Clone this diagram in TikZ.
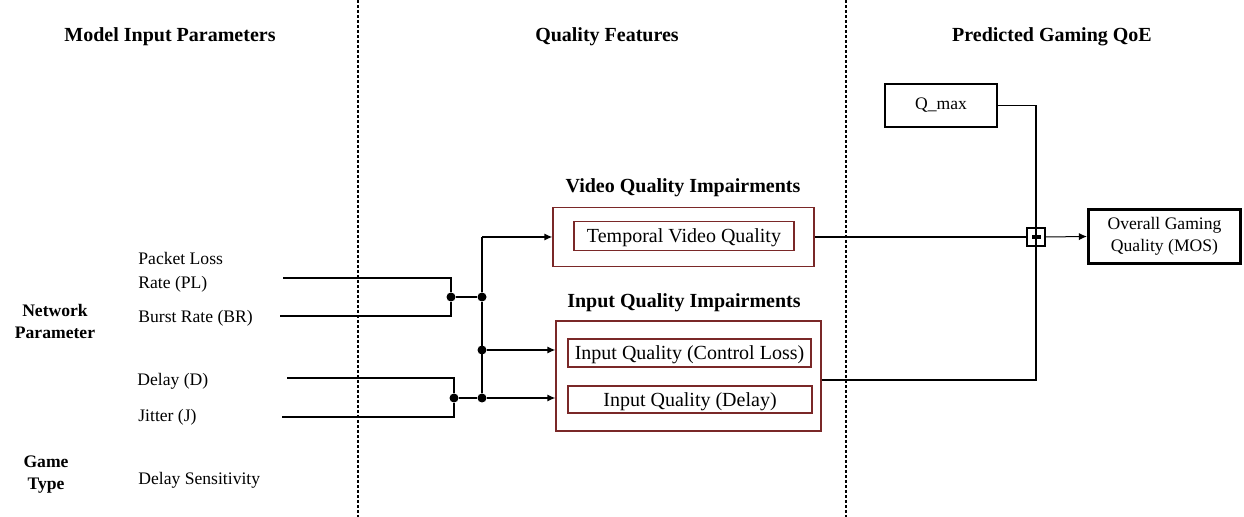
\documentclass[tikz,border=0pt]{standalone}
\usepackage{fontspec}
\setmainfont{Liberation Serif}
\usetikzlibrary{positioning,arrows.meta}
\definecolor{boxred}{RGB}{122,40,40}
\tikzset{
    head/.style ={
        font=\bfseries,
        align=center
    },
    side/.style ={
        font=\fontsize{8.8}{11}\selectfont\bfseries,
        align=center
    },
    label/.style ={
        anchor=west,
        align=left,
        inner sep=0pt,
        font=\fontsize{8.8}{12}\selectfont
    },
    outer/.style ={
        draw=boxred,
        line width=0.6pt
    },
    inner/.style ={
        draw=boxred,
        line width=0.6pt,
        inner sep=0pt,
        text height=7.5pt,
        text depth=0.5pt
    },
    plain/.style ={
        draw=black,
        line width=1pt,
        font=\fontsize{8.8}{11}\selectfont
    },
    dot/.style ={
        shape=circle,
        fill=black,
        inner sep=0pt,
        minimum size=4.5pt
    },
    wire/.style ={
        line width=0.7pt
    },
    divider/.style ={
        line width=0.6pt,
        dash pattern=on 1.6pt off 0.9pt
    }
}

\begin{document}
\begin{tikzpicture}[x=0.5pt,y=-0.5pt,>={Latex[length=4pt,width=3.6pt]}]
    \useasboundingbox (0,0) rectangle (1244,517);
    % dividers
    \draw[divider] (358,0) -- (358,517);
    \draw[divider] (846,0) -- (846,517);
    % column titles
    \node[head] (t1) at (170,37) {Model Input Parameters};
    \node[head] (t2) at (607,37) {Quality Features};
    \node[head] (t3) at (1052,37) {Predicted Gaming QoE};
    % input parameters
    \node[side] (net) at (55,321) {Network\\Parameter};
    \node[side] (game) at (46,475) {Game\\Type};
    \node[label] (pl) at (138,272) {Packet Loss\\Rate (PL)};
    \node[label] (br) at (138,318) {Burst Rate (BR)};
    \node[label] (d) at (137,381) {Delay (D)};
    \node[label] (j) at (138,417) {Jitter (J)};
    \node[label] (ds) at (138,480) {Delay Sensitivity};
    \coordinate (plend) at (283,278);
    \coordinate (brend) at (280,316);
    \coordinate (dend) at (287,378);
    \coordinate (jend) at (282,417);
    % quality features
    \node[head] (vqi) at (683,188) {Video Quality Impairments};
    \node[outer, minimum width=130.5pt, minimum height=29.5pt] (vbox) at (683.5,237) {};
    \node[inner, minimum width=110pt, minimum height=14.5pt] (tvq) at (684,236) {Temporal Video Quality};
    \node[head] (iqi) at (684,303) {Input Quality Impairments};
    \node[outer, minimum width=132.5pt, minimum height=55pt] (ibox) at (688.5,376) {};
    \node[inner, minimum width=121.5pt, minimum height=14pt] (iqc) at (689.5,353) {Input Quality (Control Loss)};
    \node[inner, minimum width=122pt, minimum height=13.5pt] (iqd) at (690,399.5) {Input Quality (Delay)};
    % predicted QoE
    \node[plain, minimum width=56pt, minimum height=21.5pt] (qmax) at (941,105.5) {Q\_max};
    \node[draw, line width=0.6pt, minimum size=9pt, inner sep=0pt] (junc) at (1036,237) {};
    \node[plain, line width=1.6pt, minimum width=76pt, minimum height=27pt, align=center] (mos) at (1164.5,236.5) {Overall Gaming\\Quality (MOS)};
    % network brackets
    \node[dot] (d1) at (451,297) {};
    \node[dot] (d2) at (482,297) {};
    \node[dot] (d3) at (482,350) {};
    \node[dot] (d4) at (454,398) {};
    \node[dot] (d5) at (482,398) {};
    \draw[wire] (plend) -| (d1) |- (brend);
    \draw[wire] (dend) -| (d4) |- (jend);
    \draw[wire] (d1) -- (d2);
    \draw[wire] (d4) -- (d5);
    \draw[wire] (d5) -- (d2) -- (482,237) coordinate (bustop);
    \draw[wire,->] (bustop) -- (vbox.west);
    \draw[wire,->] (d3) -- (ibox.west |- d3);
    \draw[wire,->] (d5) -- (ibox.west |- d5);
    % to output
    \draw[line width=1pt] (vbox.east) -- (junc.west);
    \draw[wire] (qmax.east) -| (junc.north);
    \draw[line width=0.9pt] (ibox.east |- 0,380) -| (junc.south);
    \draw[wire] (junc.north) -- (junc.south);
    \fill (1031.5,235.2) rectangle (1040.5,238.8);
    \draw[line width=0.5pt,->] (junc.east) -- (mos.west);
\end{tikzpicture}
\end{document}
